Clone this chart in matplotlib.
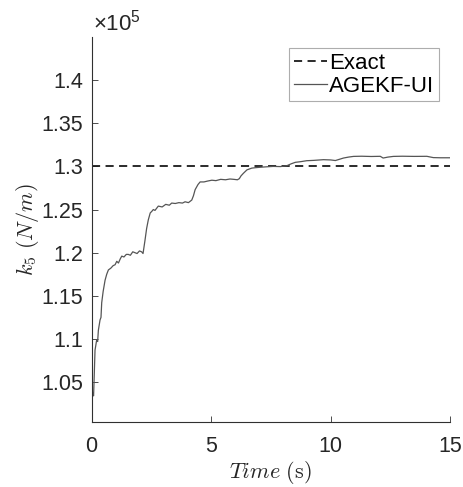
import matplotlib.pyplot as plt
from matplotlib.ticker import FuncFormatter

plt.rcParams['font.family'] = ['Liberation Sans', 'DejaVu Sans']
plt.rcParams['mathtext.fontset'] = 'cm'

# estimated stiffness k5 (x 1e5 N/m)
time = [0.00, 0.05, 0.08, 0.11, 0.14, 0.17, 0.21, 0.25, 0.28, 0.35, 0.39, 0.42,
        0.48, 0.56, 0.63, 0.70, 0.80, 0.90, 0.98, 1.05, 1.12, 1.20, 1.26, 1.35,
        1.45, 1.53, 1.62, 1.72, 1.81, 1.90, 2.00, 2.09, 2.15, 2.23, 2.30, 2.37,
        2.45, 2.52, 2.58, 2.65, 2.79, 2.95, 3.10, 3.25, 3.35, 3.50, 3.65, 3.80,
        3.91, 4.05, 4.19, 4.26, 4.33, 4.45, 4.54, 4.70, 4.85, 5.03, 5.20, 5.40,
        5.60, 5.79, 5.95, 6.10, 6.18, 6.25, 6.35, 6.50, 6.70, 6.85, 7.05, 7.30,
        7.60, 7.90, 8.17, 8.35, 8.52, 8.75, 9.00, 9.30, 9.70, 10.0, 10.2, 10.4,
        10.54, 10.75, 10.96, 11.3, 11.7, 12.08, 12.2, 12.4, 12.63, 13.0, 13.5,
        14.03, 14.3, 14.6, 15.0]
k5_est = [1.043, 1.036, 1.034, 1.060, 1.087, 1.092, 1.099, 1.097, 1.110, 1.122, 1.125, 1.142,
          1.155, 1.168, 1.175, 1.180, 1.182, 1.185, 1.186, 1.190, 1.188, 1.193, 1.196, 1.195,
          1.198, 1.198, 1.197, 1.201, 1.200, 1.199, 1.202, 1.201, 1.199, 1.214, 1.228, 1.238,
          1.246, 1.248, 1.250, 1.249, 1.254, 1.253, 1.256, 1.255, 1.2575, 1.257, 1.258, 1.2575,
          1.259, 1.258, 1.261, 1.266, 1.273, 1.279, 1.282, 1.282, 1.283, 1.284, 1.2835, 1.285,
          1.2845, 1.2854, 1.285, 1.2845, 1.2858, 1.289, 1.292, 1.296, 1.298, 1.2985, 1.299, 1.2995,
          1.300, 1.2998, 1.3008, 1.303, 1.3047, 1.3055, 1.3066, 1.3070, 1.3078, 1.3075, 1.3068, 1.3085,
          1.3097, 1.3108, 1.3116, 1.3118, 1.3115, 1.3117, 1.3097, 1.3108, 1.3116, 1.3118, 1.3116,
          1.3117, 1.3102, 1.3100, 1.3100]

exact_time = [0, 15]
exact_k5 = [1.3, 1.3]

fig = plt.figure(figsize=(4.63, 4.87), dpi=100)
ax = fig.add_axes([0.198, 0.134, 0.774, 0.790])

ax.plot(exact_time, exact_k5, color='#1a1a1a', lw=1.3, dashes=(4.5, 3), label='Exact')
ax.plot(time, k5_est, color='#555555', lw=0.9, label='AGEKF-UI')

ax.set_xlim(0, 15)
ax.set_ylim(1.004, 1.45)
ax.set_xticks([0, 5, 10, 15])
ax.set_yticks([1.05, 1.1, 1.15, 1.2, 1.25, 1.3, 1.35, 1.4])
ax.yaxis.set_major_formatter(FuncFormatter(lambda v, p: '%g' % round(v, 3)))

for s in ['top', 'right']:
    ax.spines[s].set_visible(False)
for s in ['left', 'bottom']:
    ax.spines[s].set_color('#303030')
    ax.spines[s].set_linewidth(0.8)
ax.tick_params(direction='in', length=4, width=0.6, colors='#303030',
               labelsize=15.5, labelcolor='#262626')
ax.tick_params(axis='x', pad=10)
ax.tick_params(axis='y', pad=6)

ax.set_xlabel(r'$Time\ (\mathrm{s})$', fontsize=16, color='#262626', labelpad=2)
ax.set_ylabel(r'$k_5\ (N/m)$', fontsize=16, color='#262626', labelpad=0)

ax.text(0.005, 1.004, r'$\mathregular{\times10^5}$', transform=ax.transAxes,
        fontsize=16, color='#262626', ha='left', va='bottom')

leg = ax.legend(loc='upper right', fontsize=16, handlelength=1.5, handletextpad=0.1,
                borderpad=0.2, labelspacing=0.1, fancybox=False, borderaxespad=0.5)
leg.get_frame().set_edgecolor('#999999')
leg.get_frame().set_linewidth(0.8)

fig.savefig('out.png', dpi=100)
